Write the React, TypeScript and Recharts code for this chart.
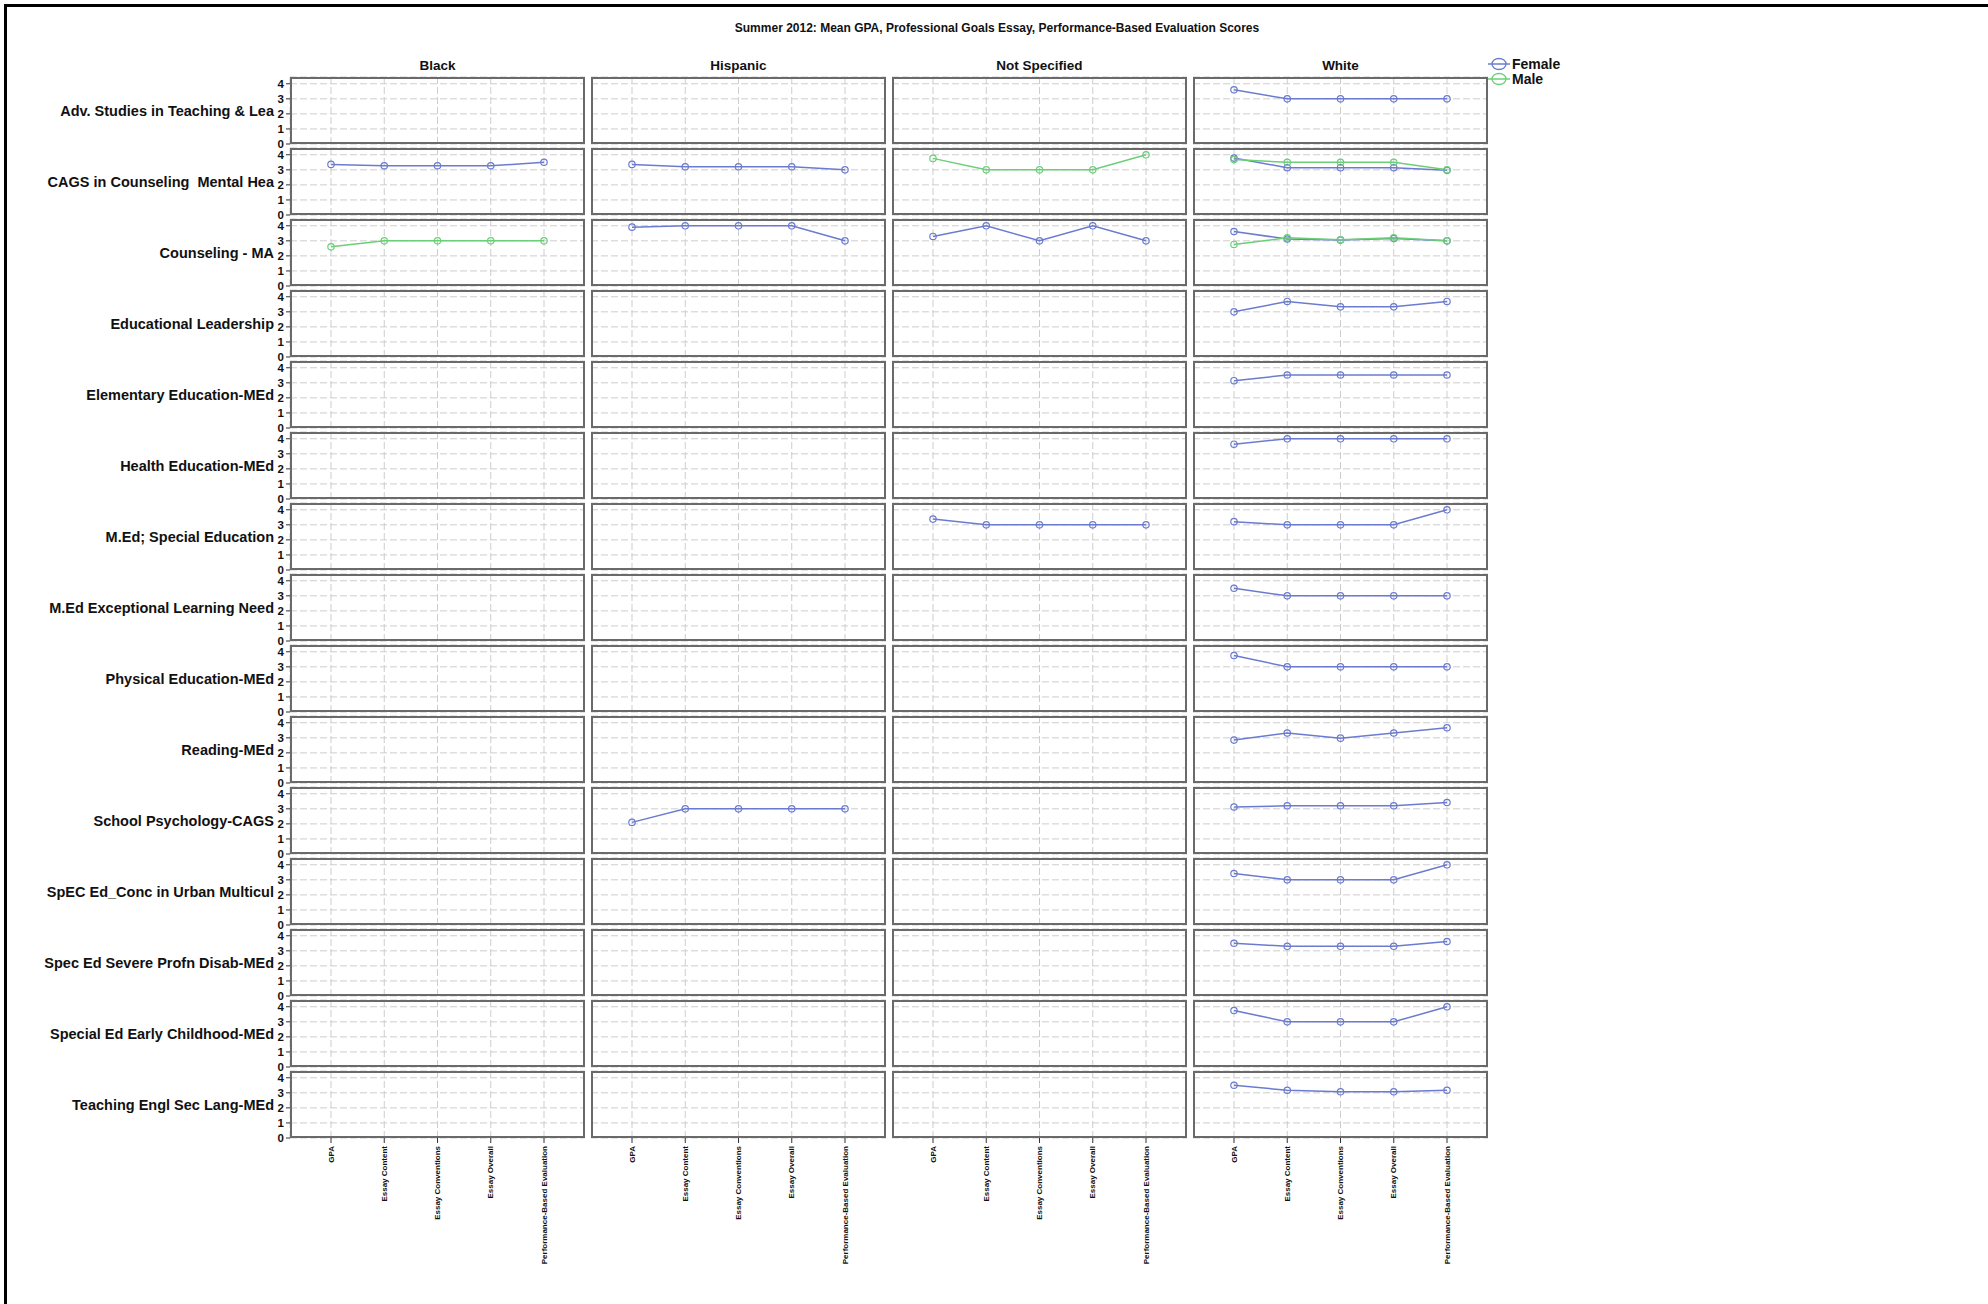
import React from 'react';
import { LineChart, Line, XAxis, YAxis, CartesianGrid } from 'recharts';

const title = 'Summer 2012: Mean GPA, Professional Goals Essay, Performance-Based Evaluation Scores';
const ethnicities = ['Black', 'Hispanic', 'Not Specified', 'White'];
const programs = [
  'Adv. Studies in Teaching & Lea',
  'CAGS in Counseling  Mental Hea',
  'Counseling - MA',
  'Educational Leadership',
  'Elementary Education-MEd',
  'Health Education-MEd',
  'M.Ed; Special Education',
  'M.Ed Exceptional Learning Need',
  'Physical Education-MEd',
  'Reading-MEd',
  'School Psychology-CAGS',
  'SpEC Ed_Conc in Urban Multicul',
  'Spec Ed Severe Profn Disab-MEd',
  'Special Ed Early Childhood-MEd',
  'Teaching Engl Sec Lang-MEd',
];
const measures = ['GPA', 'Essay Content', 'Essay Conventions', 'Essay Overall', 'Performance-Based Evaluation'];
const yTicks = [0, 1, 2, 3, 4];
const seriesNames = ['Female', 'Male'];

type Row = number[] | null;
const _ = null;

const blackFemale: Row[] = [_, [3.36, 3.27, 3.27, 3.27, 3.5], _, _, _, _, _, _, _, _, _, _, _, _, _];
const blackMale: Row[] = [_, _, [2.6, 3, 3, 3, 3], _, _, _, _, _, _, _, _, _, _, _, _];
const hispanicFemale: Row[] = [_, [3.36, 3.2, 3.2, 3.2, 3.0], [3.91, 4, 4, 4, 3], _, _, _, _, _, _, _, [2.1, 3, 3, 3, 3], _, _, _, _];
const hispanicMale: Row[] = [_, _, _, _, _, _, _, _, _, _, _, _, _, _, _];
const notSpecifiedFemale: Row[] = [_, _, [3.29, 4, 3, 4, 3], _, _, _, [3.38, 3, 3, 3, 3], _, _, _, _, _, _, _, _];
const notSpecifiedMale: Row[] = [_, [3.76, 3, 3, 3, 4], _, _, _, _, _, _, _, _, _, _, _, _, _];
const whiteFemale: Row[] = [
  [3.6, 3, 3, 3, 3],
  [3.78, 3.14, 3.14, 3.14, 2.97],
  [3.62, 3.12, 3.05, 3.15, 3.0],
  [3.0, 3.69, 3.33, 3.33, 3.69],
  [3.14, 3.52, 3.52, 3.52, 3.52],
  [3.64, 4, 4, 4, 4],
  [3.21, 3, 3, 3, 4],
  [3.5, 3, 3, 3, 3],
  [3.75, 3, 3, 3, 3],
  [2.85, 3.32, 2.98, 3.32, 3.67],
  [3.12, 3.2, 3.2, 3.2, 3.42],
  [3.42, 3, 3, 3, 4],
  [3.5, 3.3, 3.3, 3.3, 3.62],
  [3.75, 3, 3, 3, 4],
  [3.5, 3.17, 3.07, 3.07, 3.17],
];
const whiteMale: Row[] = [_, [3.68, 3.5, 3.5, 3.5, 3.0], [2.76, 3.2, 3.07, 3.2, 3.0], _, _, _, _, _, _, _, _, _, _, _, _];

const femaleByEthnicity = [blackFemale, hispanicFemale, notSpecifiedFemale, whiteFemale];
const maleByEthnicity = [blackMale, hispanicMale, notSpecifiedMale, whiteMale];

const FEMALE = '#6b7bcf';
const MALE = '#6bcf77';
const FONT = '"Liberation Sans", Arial, Helvetica, sans-serif';

const PANEL_LEFT = 290;
const PANEL_PITCH_X = 301;
const PANEL_W = 295;
const PANEL_TOP = 77;
const PANEL_PITCH_Y = 71;
const PANEL_H = 67;
const Y_AXIS_W = 40;
const X_AXIS_H = 150;
const PAD_V = 8;

const XTick = (props: any) => {
  const { x, y, payload } = props;
  return (
    <g transform={`translate(${x},${y})`}>
      <text
        transform="rotate(-90)"
        x={-1}
        y={0}
        dy="0.34em"
        textAnchor="end"
        fontSize={8}
        fontWeight="bold"
        fill="#111"
        fontFamily={FONT}
      >
        {payload.value}
      </text>
    </g>
  );
};

function Panel({ r, c }: { r: number; c: number }) {
  const f = femaleByEthnicity[c][r];
  const m = maleByEthnicity[c][r];
  const data = measures.map((name, i) => ({
    measure: name,
    Female: f ? f[i] : null,
    Male: m ? m[i] : null,
  }));
  const showY = c === 0;
  const showX = r === programs.length - 1;
  const yw = showY ? Y_AXIS_W : 0;
  const xh = showX ? X_AXIS_H : 0;
  const bottomPad = showX ? 0 : PAD_V;
  const left = PANEL_LEFT + c * PANEL_PITCH_X;
  const top = PANEL_TOP + r * PANEL_PITCH_Y;
  return (
    <>
      <div style={{ position: 'absolute', left: left - yw, top: top - PAD_V }}>
        <LineChart
          width={PANEL_W + yw}
          height={PANEL_H + xh + PAD_V + bottomPad}
          data={data}
          margin={{ top: PAD_V, right: 0, bottom: bottomPad, left: 0 }}
        >
          <CartesianGrid stroke="#cdcdcd" strokeDasharray="7 3" />
          <XAxis
            dataKey="measure"
            type="category"
            hide={!showX}
            height={xh}
            padding={{ left: 41, right: 41 }}
            axisLine={false}
            tickLine={{ stroke: '#333' }}
            tickSize={5}
            interval={0}
            tick={<XTick />}
          />
          <YAxis
            type="number"
            domain={[0, 4.45]}
            ticks={yTicks}
            hide={!showY}
            width={yw}
            axisLine={false}
            tickLine={{ stroke: '#333' }}
            tickSize={4}
            interval={0}
            allowDataOverflow
            tick={{ fontSize: 11.5, fontWeight: 'bold', fill: '#111', fontFamily: FONT }}
          />
          <Line
            dataKey="Female"
            name={seriesNames[0]}
            stroke={FEMALE}
            strokeWidth={1.5}
            dot={{ r: 3.2, fill: 'none', stroke: FEMALE, strokeWidth: 1.2 }}
            activeDot={false}
            isAnimationActive={false}
          />
          <Line
            dataKey="Male"
            name={seriesNames[1]}
            stroke={MALE}
            strokeWidth={1.5}
            dot={{ r: 3.2, fill: 'none', stroke: MALE, strokeWidth: 1.2 }}
            activeDot={false}
            isAnimationActive={false}
          />
        </LineChart>
      </div>
      <div
        style={{
          position: 'absolute',
          left,
          top,
          width: PANEL_W,
          height: PANEL_H,
          border: '2px solid #6a6a6a',
          boxSizing: 'border-box',
          pointerEvents: 'none',
        }}
      />
    </>
  );
}

export default function App() {
  return (
    <div
      style={{
        position: 'absolute',
        left: 0,
        top: 0,
        width: 1988,
        height: 1304,
        background: '#fff',
        overflow: 'hidden',
        fontFamily: FONT,
      }}
    >
      <div
        style={{
          position: 'absolute',
          left: 4,
          top: 4,
          width: 2100,
          height: 1400,
          borderTop: '3px solid #000',
          borderLeft: '3px solid #000',
        }}
      />
      <div
        style={{
          position: 'absolute',
          left: 997 - 400,
          width: 800,
          top: 21,
          textAlign: 'center',
          fontSize: 12,
          fontWeight: 'bold',
          color: '#111',
          lineHeight: '15px',
        }}
      >
        {title}
      </div>
      {ethnicities.map((e, c) => (
        <div
          key={e}
          style={{
            position: 'absolute',
            left: PANEL_LEFT + c * PANEL_PITCH_X,
            width: PANEL_W,
            top: 58,
            textAlign: 'center',
            fontSize: 13.5,
            fontWeight: 'bold',
            color: '#111',
            lineHeight: '16px',
          }}
        >
          {e}
        </div>
      ))}
      {programs.map((p, r) => (
        <div
          key={p}
          style={{
            position: 'absolute',
            left: 0,
            width: 274,
            top: PANEL_TOP + r * PANEL_PITCH_Y + 34 - 9,
            textAlign: 'right',
            fontSize: 14.5,
            fontWeight: 'bold',
            color: '#111',
            lineHeight: '18px',
            whiteSpace: 'pre',
          }}
        >
          {p}
        </div>
      ))}
      {programs.map((p, r) => ethnicities.map((e, c) => <Panel key={`${r}-${c}`} r={r} c={c} />))}
      <svg style={{ position: 'absolute', left: 1486, top: 54 }} width={120} height={36}>
        {seriesNames.map((s, i) => {
          const col = i === 0 ? FEMALE : MALE;
          const cy = 10 + i * 15;
          return (
            <g key={s}>
              <line x1={2} x2={24} y1={cy} y2={cy} stroke={col} strokeWidth={1.5} />
              <ellipse cx={13} cy={cy} rx={7} ry={5.5} fill="none" stroke={col} strokeWidth={1.3} />
              <text x={26} y={cy} dy="0.35em" fontSize={14} fontWeight="bold" fill="#111" fontFamily={FONT}>
                {s}
              </text>
            </g>
          );
        })}
      </svg>
    </div>
  );
}
